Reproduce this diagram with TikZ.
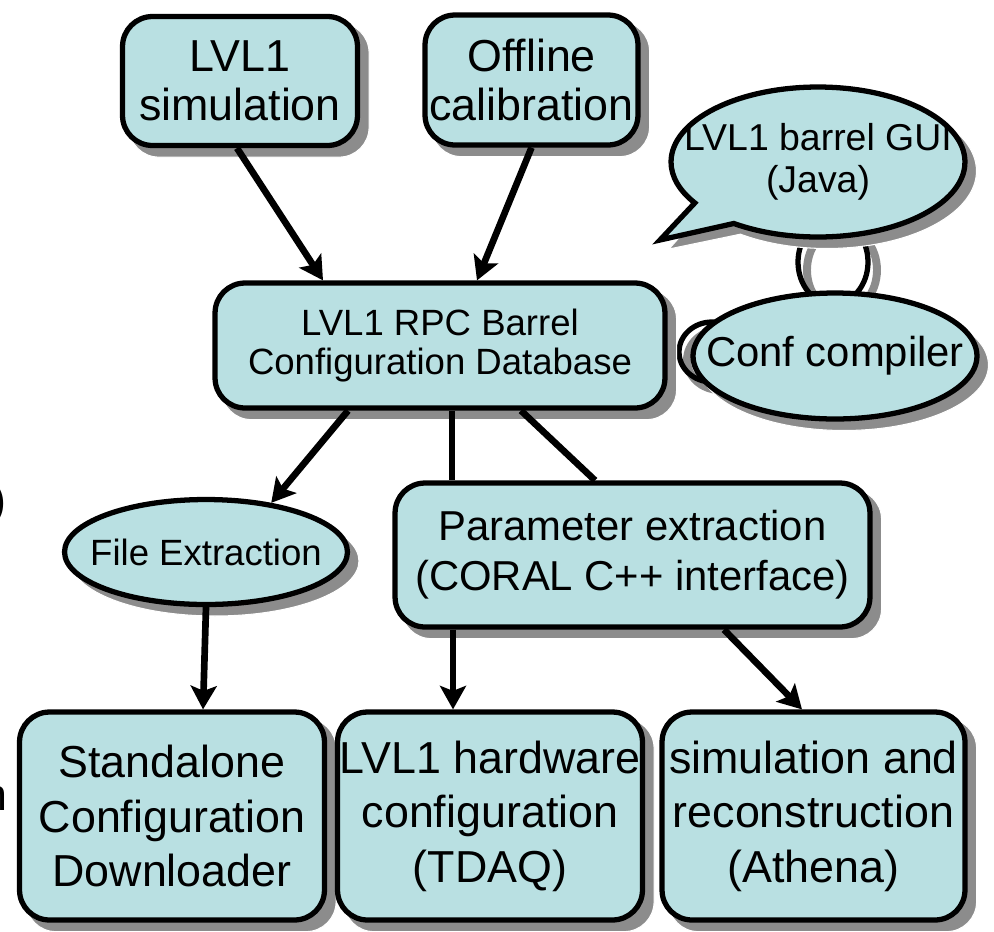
\documentclass[tikz,border=0pt]{standalone}
\usepackage{fontspec}
\setmainfont{Liberation Sans}
\usetikzlibrary{shapes.geometric,shapes.callouts,arrows.meta,calc,backgrounds}
\definecolor{boxfill}{RGB}{185,224,226}
\definecolor{shadowgray}{RGB}{140,140,140}
\newcommand\fsTop{\fontsize{25.5}{28}\selectfont}
\newcommand\fsBot{\fontsize{25.5}{31}\selectfont}
\newcommand\fsMid{\fontsize{23.8}{28.5}\selectfont}
\newcommand\fsSm{\fontsize{20.8}{22.5}\selectfont}
\newcommand\fsGui{\fontsize{21.3}{24}\selectfont}
\tikzset{
  rbox/.style={draw=black, line width=3pt, fill=boxfill, rectangle, rounded corners=0.6cm, inner sep=0pt, align=center},
  ebox/.style={draw=black, line width=3pt, fill=boxfill, ellipse, inner sep=0pt},
  shadowfill/.style={fill=shadowgray, draw=white, line width=0.6pt},
  rshadow/.style={shadowfill, rounded corners=0.6cm},
  conn/.style={line width=3.8pt, black},
  arr/.style={conn, -{Stealth[length=0.47cm,width=0.52cm,inset=0.1cm]}},
  loopline/.style={line width=3pt, black},
  loopshadow/.style={line width=4.5pt, shadowgray},
}
\begin{document}
\begin{tikzpicture}[x=0.02cm, y=-0.02cm]
\useasboundingbox (0,0) rectangle (994,931);

% nodes
\node[rbox, minimum width=4.7cm, minimum height=2.58cm, font=\fsTop] (sim) at (240,81) {LVL1\\simulation};
\node[rbox, minimum width=4.26cm, minimum height=2.6cm, font=\fsTop] (off) at (531.5,80) {Offline\\calibration};
\node[ellipse callout, draw=black, line width=3pt, fill=boxfill, inner sep=0pt,
      minimum width=5.88cm, minimum height=3cm,
      callout absolute pointer={(660,240)}, callout pointer arc=22,
      label={[font=\fsGui, align=center]center:LVL1 barrel GUI\\(Java)}] (gui) at (818,162) {};
\node[ebox, minimum width=5.68cm, minimum height=2.52cm,
      label={[font=\fsMid]center:Conf compiler}] (conf) at (835,356) {};
\node[rbox, minimum width=9cm, minimum height=2.5cm, font=\fsSm] (db) at (440,345.5) {LVL1 RPC Barrel\\Configuration Database};
\node[ebox, minimum width=5.66cm, minimum height=2.1cm,
      label={[font=\fsSm]center:File Extraction}] (file) at (206,552) {};
\node[rbox, minimum width=9.5cm, minimum height=2.88cm, font=\fsMid] (param) at (632.5,555) {Parameter extraction\\(CORAL C++ interface)};
\node[rbox, minimum width=6.1cm, minimum height=4.16cm, font=\fsBot] (stand) at (172,816) {Standalone\\Configuration\\Downloader};
\node[rbox, minimum width=6.1cm, minimum height=4.16cm, font=\fsBot] (hw) at (490,816) {LVL1 hardware\\configuration\\(TDAQ)};
\node[rbox, minimum width=6.06cm, minimum height=4.16cm, font=\fsBot] (simrec) at (813.5,816) {simulation and\\reconstruction\\(Athena)};

% cut-off text fragments at the left edge
\node[font=\fsTop, anchor=base east, inner sep=0pt] (frag1) at (7,515) {)};
\node[font=\fsTop, anchor=base east, inner sep=0pt] (frag2) at (8,810) {n};

\begin{scope}[on background layer]
  % link loops
  \draw[loopshadow] (842,270) ellipse [x radius=0.7cm, y radius=0.84cm];
  \draw[loopline] (833,262) ellipse [x radius=0.7cm, y radius=0.84cm];
  \draw[loopshadow] (720,360) ellipse [x radius=0.66cm, y radius=0.6cm];
  \draw[loopline] (712,352) ellipse [x radius=0.66cm, y radius=0.6cm];
  % drop shadows (offset 9px right and down)
  \foreach \n in {sim,off,db,param,stand,hw,simrec}{
    \filldraw[rshadow] ($(\n.south west)+(9,9)$) rectangle ($(\n.north east)+(9,9)$);
  }
  \filldraw[shadowfill] ($(conf.center)+(9,9)$) ellipse [x radius=2.89cm, y radius=1.31cm];
  \filldraw[shadowfill] ($(file.center)+(9,9)$) ellipse [x radius=2.88cm, y radius=1.1cm];
  \node[ellipse callout, shadowfill, inner sep=0pt,
        minimum width=5.98cm, minimum height=3.1cm,
        callout absolute pointer={(669,249)}, callout pointer arc=22] (guishadow) at (827,171) {};
  % connectors
  \draw[arr] ($(sim.south)+(-3,0)$) -- ($(db.north)+(-117,0)$);
  \draw[arr] (off.south) -- ($(db.north)+(37,0)$);
  \draw[arr] ($(db.south)+(-92,0)$) -- (file.37);
  \draw[conn] ($(db.south)+(12,0)$) -- ($(param.north)+(-180.5,0)$);
  \draw[conn] ($(db.south)+(81,0)$) -- ($(param.north)+(-37.5,0)$);
  \draw[arr] (file.south) -- ($(stand.north)+(31,0)$);
  \draw[arr] ($(param.south)+(-179.5,0)$) -- ($(hw.north)+(-37,0)$);
  \draw[arr] ($(param.south)+(91.5,0)$) -- ($(simrec.north)+(-11.5,0)$);
\end{scope}
\end{tikzpicture}
\end{document}
